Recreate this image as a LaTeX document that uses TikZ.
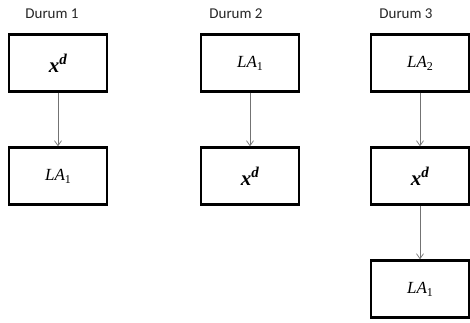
\documentclass[tikz,border=0pt]{standalone}
\usepackage{fontspec}
\setmainfont{Liberation Serif}
\newfontfamily\headfont{Carlito}
\usetikzlibrary{arrows.meta}
\tikzset{
  x=1pt, y=-1pt,
  box/.style={draw=black, line width=2.4pt, minimum width=98pt, minimum height=57pt,
              inner sep=0pt, font=\fontsize{17}{17}\selectfont},
  head/.style={font=\headfont\fontsize{15}{15}\selectfont, text=black!85, anchor=base},
  link/.style={draw=black!55, line width=0.7pt, -{Straight Barb[length=5pt,width=7pt]}}
}
\newcommand{\xd}{{\fontsize{21}{21}\selectfont\textbf{\textit{x}}}\raisebox{1.0ex}{\fontsize{15}{15}\selectfont\textbf{\textit{d}}}}
\newcommand{\lab}[2]{\textit{#1}\raisebox{-0.4ex}{\fontsize{12}{12}\selectfont #2}}
\begin{document}
\begin{tikzpicture}
  \useasboundingbox (0,0) rectangle (470,322);
  % headings
  \node[head] (h1) at (52,18) {Durum 1};
  \node[head] (h2) at (236,18) {Durum 2};
  \node[head] (h3) at (406,18) {Durum 3};
  % column 1
  \node[box] (a1) at (58,63) {\xd};
  \node[box] (a2) at (58,176) {\lab{LA}{1}};
  % column 2
  \node[box] (b1) at (250,63) {\lab{LA}{1}};
  \node[box] (b2) at (250,176) {\xd};
  % column 3
  \node[box] (c1) at (420,63) {\lab{LA}{2}};
  \node[box] (c2) at (420,176) {\xd};
  \node[box] (c3) at (420,289) {\lab{LA}{1}};
  % connectors
  \draw[link] (a1) -- (a2);
  \draw[link] (b1) -- (b2);
  \draw[link] (c1) -- (c2);
  \draw[link] (c2) -- (c3);
\end{tikzpicture}
\end{document}
